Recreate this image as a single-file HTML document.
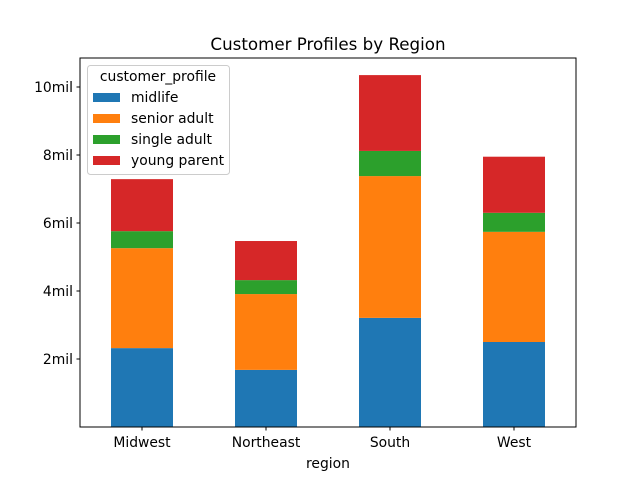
<!DOCTYPE html>
<html><head><meta charset="utf-8"><style>
body{margin:0;background:#fff}
svg text{font-family:"DejaVu Sans","Liberation Sans",sans-serif;fill:#000}
</style></head><body>
<svg id="c" width="640" height="480" xmlns="http://www.w3.org/2000/svg">
<rect width="640" height="480" fill="#fff"/>
<g id="bars"></g>
<rect x="80" y="58" width="496" height="369" fill="none" stroke="#000" stroke-width="1"/>
<g id="axes"></g>
<text x="328" y="50" font-size="14.4" text-anchor="middle" style="font-size:16.7px">Customer Profiles by Region</text>
<text x="328" y="468" font-size="13.9" text-anchor="middle">region</text>
<g id="legend"></g>
</svg>
<script>
const categories=["Midwest","Northeast","South","West"];
const seriesNames=["midlife","senior adult","single adult","young parent"];
const midlife=[2.32,1.68,3.21,2.50];
const seniorAdult=[2.94,2.23,4.17,3.24];
const singleAdult=[0.50,0.41,0.74,0.56];
const youngParent=[1.53,1.15,2.23,1.65];
const yTicks=[2,4,6,8,10];
const yTickLabels=["2mil","4mil","6mil","8mil","10mil"];
const colors=["#1f77b4","#ff7f0e","#2ca02c","#d62728"];
const series=[midlife,seniorAdult,singleAdult,youngParent];
const NS="http://www.w3.org/2000/svg";
const y=v=>427-v*34;
const x=i=>142+i*124;
const bw=62;
function mk(t,a,p){const e=document.createElementNS(NS,t);for(const k in a)e.setAttribute(k,a[k]);p.appendChild(e);return e;}
const bars=document.getElementById('bars');
categories.forEach((c,i)=>{let base=0;series.forEach((s,j)=>{
 const r=mk('rect',{x:x(i)-bw/2,y:y(base+s[i]),width:bw,height:y(base)-y(base+s[i]),fill:colors[j]},bars);
 
 
 base+=s[i];});});
const ax=document.getElementById('axes');
yTicks.forEach((t,k)=>{mk('line',{x1:76.5,x2:80,y1:y(t),y2:y(t),stroke:'#000'},ax);
 const tx=mk('text',{x:73,y:y(t)+5,'font-size':13.9,'text-anchor':'end'},ax);tx.textContent=yTickLabels[k];
 
 });
categories.forEach((c,i)=>{mk('line',{x1:x(i),x2:x(i),y1:427,y2:430.5,stroke:'#000'},ax);
 const tx=mk('text',{x:x(i),y:447,'font-size':13.9,'text-anchor':'middle'},ax);tx.textContent=c;
 
 });
const lg=document.getElementById('legend');


mk('rect',{x:87.5,y:65.5,width:142,height:109,rx:3,fill:'#fff','fill-opacity':0.8,stroke:'#ccc'},lg);
const lt=mk('text',{x:158,y:81,'font-size':13.9,'text-anchor':'middle'},lg);lt.textContent='customer_profile';
seriesNames.forEach((n,j)=>{const yy=97+j*21;
 mk('rect',{x:93,y:yy-4,width:27,height:9,fill:colors[j]},lg);
 const t=mk('text',{x:131,y:yy+5,'font-size':13.9},lg);t.textContent=n;
 
 });
</script>
</body></html>
